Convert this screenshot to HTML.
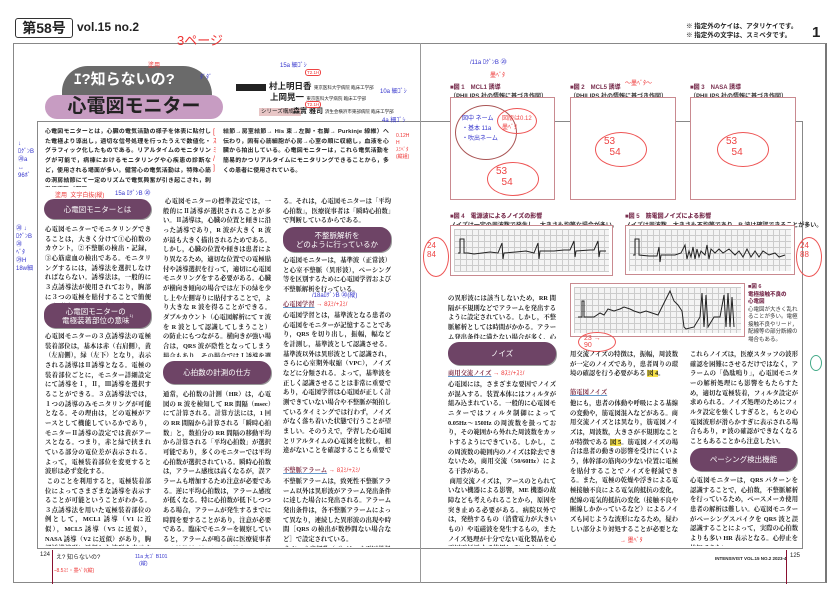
<!DOCTYPE html>
<html><head><meta charset="utf-8">
<style>
*{margin:0;padding:0;box-sizing:border-box}
body{width:839px;height:594px;background:#fff;position:relative;overflow:hidden;font-family:"Liberation Sans","Noto Sans CJK JP",sans-serif;color:#222}
.a{position:absolute}
.body{position:absolute;font-family:"Liberation Serif","Noto Serif CJK SC",serif;font-size:6.3px;line-height:9.65px;text-align:justify;overflow:hidden;color:#1a1a1a;font-weight:bold}
.lead{position:absolute;font-size:5.9px;letter-spacing:0.15px;line-height:9.7px;font-weight:bold;overflow:hidden;color:#222;text-align:justify}
.pill{position:absolute;background:#6e4466;color:#fff;border-radius:11px;display:flex;align-items:center;justify-content:center;text-align:center;font-size:7.5px;line-height:9px;box-shadow:1px 1px 0 #999}
.fig{position:absolute;border:1px solid #c98a90;background:#fff}
.cap{position:absolute;font-size:6px;font-weight:bold;color:#333;white-space:nowrap}
.cap b{color:#7a3050}
.red{position:absolute;color:#e33;font-size:6px;white-space:nowrap}
.blue{position:absolute;color:#33c;font-size:6px;white-space:nowrap}
.cloud{position:absolute;border:1px solid #e55;border-radius:50%;color:#e44;font-size:10px}
.hl{background:#f5e04a}
.sub{font-weight:bold;color:#7a2840;text-decoration:underline;text-decoration-color:#69c}
.grid{background-color:#f4f4f4;background-image:linear-gradient(#ccc 1px,transparent 1px),linear-gradient(90deg,#ccc 1px,transparent 1px);background-size:6px 6px}
</style></head><body>

<div class="a" style="left:13px;top:43px;width:814px;height:540px;border:1px solid #888;border-right:2px solid #777"></div>
<div class="a" style="left:37px;top:122px;width:766px;height:427px;border:1px solid #888;border-top:none"></div>
<div class="a" style="left:37px;top:121px;width:383px;height:1px;background:#888"></div>
<div class="a" style="left:420px;top:121px;width:383px;height:1px;background:#888"></div>
<div class="a" style="left:420px;top:43px;width:1px;height:540px;background:#999"></div>

<div class="a" style="left:15px;top:18px;width:58px;height:20px;border:1px solid #333;border-radius:3px;font-size:14px;font-weight:bold;text-align:center;line-height:18px">第58号</div>
<div class="a" style="left:77px;top:20px;font-size:12px;font-weight:bold">vol.15 no.2</div>
<div class="red" style="left:177px;top:30px;font-size:13px">3ページ</div>
<div class="a" style="left:686px;top:22px;font-size:6.5px;font-weight:bold;line-height:9px">※ 指定外のケイは、アタリケイです。<br>※ 指定外の文字は、スミベタです。</div>
<div class="a" style="left:812px;top:24px;font-size:15px;font-weight:bold">1</div>

<div class="a" style="left:62px;top:66px;width:150px;height:34px;background:#6a6a6a;border-radius:30px 34px 6px 6px"></div>
<div class="a" style="left:74px;top:68px;font-size:15px;color:#fff;font-weight:bold">ｴ?知らないの?</div>
<div class="a" style="left:45px;top:95px;width:178px;height:24px;background:#c79cc2;border-radius:12px;font-size:19px;font-weight:bold;text-align:center;line-height:24px;color:#222">心電図モニター</div>
<div class="red" style="left:148px;top:60px">塗用</div>
<div class="blue" style="left:200px;top:72px">ﾀﾞﾀﾞ</div>

<div class="a" style="left:236px;top:84px;width:30px;height:7px;background:#222"></div>
<div class="a" style="left:269px;top:81px;font-size:8.5px;line-height:10px;font-weight:bold;white-space:nowrap">村上明日香 <span style="font-size:4.5px;font-weight:normal">東京医科大学病院 臨床工学部</span></div>
<div class="a" style="left:270px;top:92px;font-size:8.5px;line-height:10px;font-weight:bold;white-space:nowrap">上岡晃一 <span style="font-size:4.5px;font-weight:normal">東京医科大学病院 臨床工学部</span></div>
<div class="a" style="left:259px;top:108px;font-size:5.5px;line-height:8px;background:#e8c6c6;padding:0 2px">シリーズ構成：</div>
<div class="a" style="left:293px;top:107px;font-size:7px;line-height:9px;font-weight:bold;white-space:nowrap">森實 雅司 <span style="font-size:4.5px;font-weight:normal">済生会横浜市東部病院 臨床工学部</span></div>
<div class="red" style="left:305px;top:69px;font-size:4.5px;border:1px solid #e44;border-radius:3px;padding:0 1px;line-height:5px">T2.1H</div>
<div class="red" style="left:305px;top:101px;font-size:4.5px;border:1px solid #e44;border-radius:3px;padding:0 1px;line-height:5px">T2.1H</div>
<div class="blue" style="left:280px;top:60px">15a 細ｺﾞｼ</div>
<div class="blue" style="left:380px;top:86px">10a 細ｺﾞｼ</div>
<div class="blue" style="left:382px;top:115px">4a 細ｺﾞｼ</div>
<div class="red" style="left:396px;top:133px;line-height:7px;font-size:5px">0.12H<br>H<br>ｽﾐﾍﾞﾀ<br>(縦組)</div>

<div class="lead" style="left:45px;top:128px;width:166px;height:59px">心電図モニターとは，心臓の電気活動の様子を体表に貼付した電極より導出し，適切な信号処理を行ったうえで数値化・グラフィック化したものである。リアルタイムのモニタリングが可能で，病棟におけるモニタリングや心疾患の診断など，使用される場面が多い。健常心の電気活動は，特殊心筋の洞房結節にて一定のリズムで電気興奮が引き起こされ，刺激伝導路（洞房</div>
<div class="lead" style="left:223px;top:128px;width:166px;height:49px">結節→房室結節→ His 束→左脚・右脚→ Purkinje 線維）へ伝わり，固有心筋細胞が心房→心室の順に収縮し，血液を心臓から拍出している。心電図モニターは，これら電気活動を簡易的かつリアルタイムにモニタリングできることから，多くの患者に使用されている。</div>
<div class="red" style="left:213px;top:128px;font-size:7px;line-height:9px">[<br>ｽ<br>ﾐ<br>/<br>]</div>
<div class="blue" style="left:18px;top:140px;line-height:8px">↓<br>ﾛｸﾞﾝB<br>⑳a<br>↔<br>96ﾎﾞ</div>

<div class="red" style="left:55px;top:190px">塗用 &nbsp;文字白抜(縦)</div>
<div class="blue" style="left:115px;top:188px">15a ﾛｸﾞﾝB ⑳</div>

<div class="pill" style="left:44px;top:199px;width:107px;height:20px">心電図モニターとは</div>
<div class="body" style="left:45px;top:225px;width:106px;height:78px">心電図モニターでモニタリングできることは，大きく分けて①心拍数のカウント，②不整脈の検出・記録，③心筋虚血の検出である。モニタリングするには，誘導法を選択しなければならない。誘導法は，一般的に３点誘導法が使用されており，胸部に３つの電極を貼付することで簡便に心電図モニタリングができる。</div>
<div class="pill" style="left:44px;top:303px;width:107px;height:25px">心電図モニターの<br>電極装着部位の意味 <sup style="font-size:4px">1)</sup></div>
<div class="body" style="left:45px;top:332px;width:106px;height:214px">心電図モニターの３点誘導法の電極装着部位は，基本は赤（右肩側），黄（左肩側），緑（左下）となり，表示される誘導はⅡ誘導となる。電極の装着部位ごとに，モニター詳細設定にて誘導をⅠ，Ⅱ，Ⅲ誘導を選択することができる。３点誘導法では，１つの誘導のみモニタリングが可能となる。その理由は，どの電極がアースとして機能しているかであり，モニターⅡ誘導の設定では黄がアースとなる。つまり，赤と緑で挟まれている部分の電位差が表示される。よって，電極装着部位を変更すると波形は必ず変化する。<br>&nbsp;このことを利用すると，電極装着部位によってさまざまな誘導を表示することが可能ということがわかる。３点誘導法を用いた電極装着部位の例として，MCL1 誘導（V1 に近似），MCL5 誘導（V5 に近似），NASA 誘導（V2 に近似）があり，胸部誘導波形に近似した波形を表示することが可能である <span class="hl">図 1，2，3</span>。</div>
<div class="blue" style="left:16px;top:225px;line-height:8px">⑳ ↓<br>ﾛｸﾞﾝB<br>⑳<br>ﾍﾞﾀ<br>㉙H<br>18w細</div>

<div class="body" style="left:163px;top:197px;width:108px;height:160px">&nbsp;心電図モニターの標準設定では，一般的にⅡ誘導が選択されることが多い。Ⅱ誘導は，心臓の位置と傾きに沿った誘導であり，R 波が大きく R 波が最も大きく描出されるためである。しかし，心臓の位置や傾きは患者により異なるため，適切な位置での電極貼付や誘導選択を行って，適切に心電図モニタリングをする必要がある。心臓が横向き傾向の場合では左下の緑を少し上や左側寄りに貼付することで，より大きな R 波を得ることができる。ダブルカウント（心電図解析にて T 波を R 波として認識してしまうこと）の防止にもつながる。横向きが強い場合は，QRS 波が陰性となってしまう場合もあり，その場合ではⅠ誘導を選択するとよい。</div>
<div class="pill" style="left:163px;top:361px;width:108px;height:23px">心拍数の計測の仕方</div>
<div class="body" style="left:163px;top:390px;width:108px;height:156px">通常，心拍数の計測（HR）は，心電図の R 波を検知して RR 間隔（msec）にて計算される。計算方法には，1 回の RR 間隔から計算される「瞬時心拍数」と，数拍分の RR 間隔の移動平均から計算される「平均心拍数」が選択可能であり，多くのモニターでは平均心拍数が選択されている。瞬時心拍数は，アラーム感度は高くなるが，誤アラームも増加するため注意が必要である。逆に平均心拍数は，アラーム感度が低くなる。特に心拍数が低下しつつある場合，アラームが発生するまでに時間を要することがあり，注意が必要である。臨床でモニターを観察していると，アラームが鳴る前に医療従事者が心拍数低下などに気が付くことがあ</div>

<div class="body" style="left:283px;top:197px;width:108px;height:30px">る。それは，心電図モニターは「平均心拍数」，医療従事者は「瞬時心拍数」で判断しているからである。</div>
<div class="pill" style="left:283px;top:227px;width:108px;height:25px">不整脈解析を<br>どのように行っているか</div>
<div class="body" style="left:283px;top:256px;width:108px;height:40px">心電図モニターは，基準波（正常波）と心室不整脈（異形波），ペーシング等を区別するために心電図学習および不整脈解析を行っている。</div>
<div class="blue" style="left:312px;top:290px">/18aﾛｸﾞﾝB ⑳(縦)</div>
<div class="body" style="left:283px;top:300px;width:108px;height:10px"><span class="sub">心電図学習</span> <span style="color:#e33;font-family:sans-serif;font-weight:normal">→ 8ｽﾐ/+ｽﾐ/</span></div>
<div class="body" style="left:283px;top:311px;width:108px;height:145px">心電図学習とは，基準波となる患者の心電図をモニターが記憶することであり，QRS を切り出し，振幅，幅などを計測し，基準波として認識させる。基準波以外は異形波として認識され，さらに心室期外収縮（VPC），ノイズなどに分類される。よって，基準波を正しく認識させることは非常に重要であり，心電図学習は心電図が正しく計測できていない場合や不整脈が頻拍しているタイミングでは行わず，ノイズがなく落ち着いた状態で行うことが望ましい。そのうえで，学習した心電図とリアルタイムの心電図を比較し，相違がないことを確認することも重要である。</div>
<div class="body" style="left:283px;top:466px;width:108px;height:10px"><span class="sub">不整脈アラーム</span> <span style="color:#e33;font-family:sans-serif;font-weight:normal">→ 8ｽﾐ/+ｽﾐ/</span></div>
<div class="body" style="left:283px;top:477px;width:108px;height:70px">不整脈アラームは，致死性不整脈アラーム以外は異形波がアラーム発出条件に達した場合に発出される。アラーム発出条件は，各不整脈アラームによって異なり，連続した異形波の出現や時間［QRS の検出が数秒間ない場合など］で設定されている。<br>&nbsp;なお，心房細動（af）は，心電図学習</div>

<div class="a" style="left:40px;top:552px;font-size:6px">124</div>
<div class="a" style="left:52px;top:550px;width:1px;height:34px;background:#8a1030"></div>
<div class="a" style="left:56px;top:552px;font-size:6px">え? 知らないの?</div>
<div class="red" style="left:54px;top:567px;font-size:5px">ｰ8.5ｽﾐ・墨ﾍﾞﾀ(縦)</div>
<div class="blue" style="left:135px;top:553px;font-size:5px">11a 太ｺﾞ B101<br>&nbsp;&nbsp;&nbsp;(縦)</div>

<div class="cap" style="left:450px;top:82px"><b>■図 1　MCL1 誘導</b><br>（PHILIPS 社の情報に基づき作図）</div>
<div class="cap" style="left:570px;top:82px"><b>■図 2　MCL5 誘導</b><br>（PHILIPS 社の情報に基づき作図）</div>
<div class="cap" style="left:690px;top:82px"><b>■図 3　NASA 誘導</b><br>（PHILIPS 社の情報に基づき作図）</div>
<div class="fig" style="left:450px;top:97px;width:105px;height:103px"></div>
<div class="fig" style="left:570px;top:97px;width:106px;height:103px"></div>
<div class="fig" style="left:690px;top:97px;width:106px;height:103px"></div>
<div class="cloud" style="left:455px;top:105px;width:62px;height:55px;border-color:#a55;color:#33c;font-size:6px;padding:8px 6px;line-height:10px">図中 ネーム<br>・基本 11a<br>・吹出ネーム</div>
<div class="cloud" style="left:497px;top:108px;width:40px;height:26px;font-size:6px;padding:4px">図版は0.12<br>墨ﾍﾞﾀ</div>
<div class="cloud" style="left:487px;top:162px;width:52px;height:34px;padding:3px 8px">53<br>&nbsp;&nbsp;54</div>
<div class="cloud" style="left:595px;top:132px;width:52px;height:35px;padding:3px 8px">53<br>&nbsp;&nbsp;54</div>
<div class="cloud" style="left:717px;top:132px;width:52px;height:35px;padding:3px 8px">53<br>&nbsp;&nbsp;54</div>
<div class="blue" style="left:470px;top:57px">/11a ﾛｸﾞﾝB ⑳</div>
<div class="red" style="left:490px;top:70px">墨ﾍﾞﾀ</div>
<div class="red" style="left:625px;top:78px">～墨ﾍﾞﾀ～</div>

<div class="cap" style="left:450px;top:211px"><b>■図 4　電源波によるノイズの影響</b><br>ノイズは一定の周波数で発生し，大きさも均等な場合が多い。</div>
<div class="cap" style="left:625px;top:211px"><b>■図 5　筋電図ノイズによる影響</b><br>ノイズは周波数，大きさも不均等であり，R 波は確認できることが多い。</div>
<div class="fig" style="left:450px;top:225px;width:163px;height:51px;padding:3px"><div class="grid" style="width:100%;height:100%;position:relative">
<svg width="155" height="43" style="position:absolute;left:0;top:0"><polyline fill="none" stroke="#222" stroke-width="1" points="4,24 6,24 6,10 10,10 10,24 14,24 20,25 28,24 36,23 44,24 48,14 49,30 50,24 62,23 72,22 80,24 84,14 85,30 86,22 100,22 110,21 116,21 120,12 121,28 122,22 136,21 140,21 144,12 145,28 146,22 152,22"/></svg></div></div>
<div class="fig" style="left:625px;top:225px;width:170px;height:50px;padding:3px"><div class="grid" style="width:100%;height:100%;position:relative">
<svg width="162" height="42" style="position:absolute;left:0;top:0"><polyline fill="none" stroke="#222" stroke-width="1" points="4,26 6,26 6,10 10,10 10,26 20,27 28,27 30,18 31,33 32,26 46,26 52,24 56,16 58,30 60,22 62,28 64,18 66,30 68,20 70,28 72,22 76,26 78,16 80,30 82,20 86,24 90,20 94,24 100,20 106,26 110,22 114,28 118,20 122,28 126,22 130,28 134,22 140,26 146,24 150,28 156,26"/></svg></div></div>
<div class="cloud" style="left:423px;top:237px;width:26px;height:40px;font-size:8px;padding:3px">24<br>84</div>
<div class="cloud" style="left:796px;top:237px;width:26px;height:40px;font-size:8px;padding:3px">24<br>88</div>

<div class="fig" style="left:570px;top:283px;width:175px;height:54px;padding:3px"><div class="grid" style="width:100%;height:100%;position:relative">
<svg width="167" height="46" style="position:absolute;left:0;top:0"><polyline fill="none" stroke="#222" stroke-width="1" points="4,30 8,30 8,14 10,14 10,30 20,30 26,26 30,28 34,22 40,24 46,22 50,20 56,22 60,24 66,26 72,24 78,26 84,28 96,4 100,14 104,18 108,24 110,40 112,42 120,40 126,30 128,6 130,40 132,8 134,40 140,30 146,30 150,8 152,40 154,6 156,40 158,10 160,40"/></svg></div></div>
<div class="cap" style="left:748px;top:284px;line-height:7.5px;font-size:5.5px"><b>■図 6<br>電極接触不良の<br>心電図</b><br><span style="font-weight:normal">心電図が大きく乱れ<br>ることが多い。電極<br>接触不良やリード，<br>配線等の部分断線の<br>場合もある。</span></div>
<div class="cloud" style="left:578px;top:332px;width:38px;height:20px;font-size:7px;padding:2px 5px">23 → 90</div>

<div class="body" style="left:448px;top:294px;width:108px;height:45px">の異形波には該当しないため，RR 間隔が不規則などでアラームを発出するように設定されている。しかし，不整脈解析としては時間がかかる。アラーム発出条件に満たない場合が多く，心室性不整脈よりもアラーム発出感度が鈍い。</div>
<div class="pill" style="left:448px;top:342px;width:108px;height:23px">ノイズ</div>
<div class="body" style="left:448px;top:369px;width:108px;height:10px"><span class="sub">商用交流ノイズ</span> <span style="color:#e33;font-family:sans-serif;font-weight:normal">→ 8ｽﾐ/+ｽﾐ/</span></div>
<div class="body" style="left:448px;top:380px;width:108px;height:166px">心電図には，さまざまな要因でノイズが混入する。装置本体にはフィルタが組み込まれている。一般的に心電図モニターではフィルタ制御によって 0.05Hz〜150Hz の周波数を扱っており，その範囲から外れた周波数をカットするようにできている。しかし，この周波数の範囲内のノイズは除去できないため，商用交流（50/60Hz）による干渉がある。<br>&nbsp;商用交流ノイズは，アースのとられていない機器による影響，ME 機器の故障なども考えられることから，原因を突き止める必要がある。病院以外では，発熱するもの（消費電力が大きいもの）や電磁波を発生するもの，またノイズ処理が十分でない電化製品を心電図電極近くで使用しているとノイズが入りやすい。商</div>

<div class="body" style="left:570px;top:350px;width:108px;height:35px">用交流ノイズの特徴は，振幅，周波数が一定のノイズであり，患者周りの環境の確認を行う必要がある <span class="hl">図 4</span>。</div>
<div class="body" style="left:570px;top:388px;width:108px;height:10px"><span class="sub">筋電図ノイズ</span></div>
<div class="body" style="left:570px;top:399px;width:108px;height:134px">他にも，患者の体動や呼吸による基線の変動や，筋電図混入などがある。商用交流ノイズとは異なり，筋電図ノイズは，周波数，大きさが不規則なことが特徴である <span class="hl">図 5</span>。筋電図ノイズの場合は患者の動きの影響を受けにくいよう，体幹部の筋肉の少ない位置に電極を貼付することでノイズを軽減できる。また，電極の乾燥や浮きによる電極接触不良による電気的抵抗の変化，配線の電気的抵抗の変化（接触不良や断線しかかっているなど）によるノイズも同じような波形になるため，疑わしい部分より対処することが必要となる <span class="hl">図 6</span>。</div>
<div class="red" style="left:620px;top:535px">→ 墨ﾍﾞﾀ</div>

<div class="body" style="left:690px;top:350px;width:108px;height:95px">これらノイズは，医療スタッフの波形確認を困難にさせるだけではなく，アラームの「偽駄鳴り」，心電図モニターの解析処理にも影響をもたらすため，適切な電極装着，フィルタ設定が求められる。ノイズ処理のためにフィルタ設定を強くしすぎると，もとの心電図波形が滑らかすぎに表示される場合もあり，P 波の確認ができなくなることもあることから注意したい。</div>
<div class="pill" style="left:690px;top:448px;width:107px;height:23px">ペーシング検出機能</div>
<div class="body" style="left:690px;top:476px;width:108px;height:70px">心電図モニターは，QRS パターンを認識することで，心拍数，不整脈解析を行っているため，ペースメーカ使用患者の解析は難しい。心電図モニターがペーシングスパイクを QRS 波と誤認識することによって，実際の心拍数よりも多い HR 表示となる。心停止を検知できない。</div>
<div class="a" style="left:810px;top:355px;width:12px;height:16px;border:1px solid #4a8;border-radius:50%"></div>

<div class="a" style="left:715px;top:556px;font-size:4.5px;font-weight:bold">INTENSIVIST VOL.15 NO.2 2023-4</div>
<div class="a" style="left:786px;top:550px;width:1px;height:34px;background:#8a1030"></div>
<div class="a" style="left:790px;top:553px;font-size:6px">125</div>
</body></html>
